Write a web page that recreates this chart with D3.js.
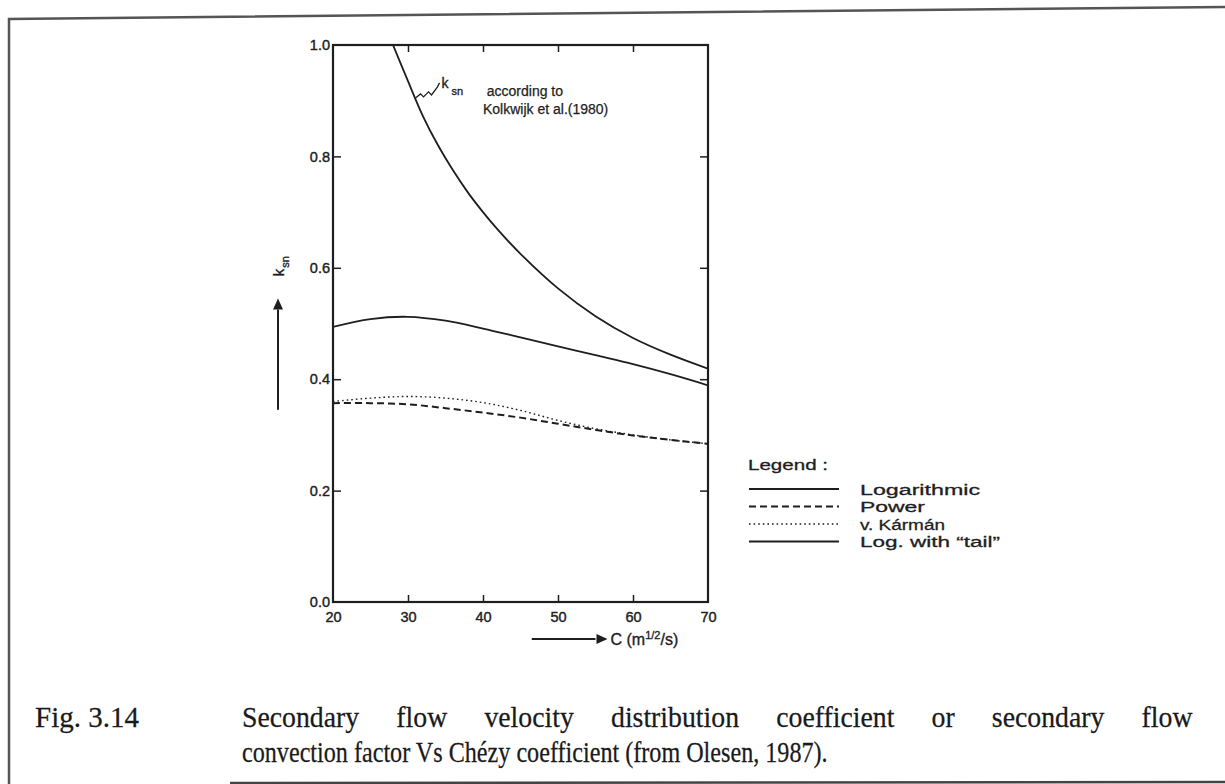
<!DOCTYPE html>
<html><head><meta charset="utf-8">
<script src="https://cdn.jsdelivr.net/npm/d3@7"></script>
<style>
html,body{margin:0;padding:0;background:#fff;}
svg{display:block;}
.ax text{font-family:"Liberation Sans",Arial,sans-serif;font-size:14.5px;fill:#222;stroke:#222;stroke-width:0.4px;}
</style></head>
<body>
<svg id="c" width="1225" height="784"></svg>
<script>
// ---- data ----
const cKalkwijk = [28, 30, 32, 34, 36, 38, 40, 42, 45, 50, 55, 60, 65, 70];
const kKalkwijk = [1.0, 0.935, 0.872, 0.82, 0.775, 0.735, 0.70, 0.668, 0.625, 0.563, 0.513, 0.474, 0.444, 0.419];
const cCurves = [20, 25, 30, 35, 40, 45, 50, 55, 60, 65, 70];
const kLogarithmic = [0.494, 0.508, 0.512, 0.505, 0.491, 0.475, 0.459, 0.443, 0.427, 0.409, 0.389];
const kPower = [0.357, 0.357, 0.355, 0.348, 0.340, 0.331, 0.320, 0.309, 0.299, 0.291, 0.284];
const kKarman = [0.360, 0.366, 0.369, 0.366, 0.358, 0.344, 0.326, 0.311, 0.300, 0.291, 0.284];
const xTicks = [20, 30, 40, 50, 60, 70];
const yTicks = [0.0, 0.2, 0.4, 0.6, 0.8, 1.0];
const legendNames = ["Logarithmic", "Power", "v. Kármán", "Log. with \u201ctail\u201d"];
const legendDash = [null, "7,4", "1.6,3", null];
const captionLabel = "Fig. 3.14";
const captionLines = ["Secondary flow velocity distribution coefficient or secondary flow",
                      "convection factor Vs Chézy coefficient (from Olesen, 1987)."];

const svg = d3.select("#c");
const ink = "#1e1e1e";
const sans = '"Liberation Sans",Arial,sans-serif';
function txt(sel, size, sw){ return sel.attr("font-family",sans).attr("font-size",size).attr("fill",ink).attr("stroke",ink).attr("stroke-width",sw==null?0.35:sw); }
function fitW(sel, w){ sel.attr("textLength", w).attr("lengthAdjust","spacingAndGlyphs"); return sel; }

// page frame (scanned box)
svg.append("path").attr("d", "M9,784 L9,19 L1225,7").attr("fill","none").attr("stroke","#555").attr("stroke-width",2.5);
svg.append("line").attr("x1",230).attr("x2",1225).attr("y1",783).attr("y2",782).attr("stroke","#444").attr("stroke-width",2.5);

const x = d3.scaleLinear().domain([20,70]).range([333,708]);
const y = d3.scaleLinear().domain([0,1]).range([602,45]);

const g = svg.append("g");
svg.append("defs").append("clipPath").attr("id","plot")
  .append("rect").attr("x",x(20)).attr("y",y(1)).attr("width",x(70)-x(20)).attr("height",y(0)-y(1));

// axes with inward ticks
const inner = [0.2,0.4,0.6,0.8];
g.append("g").attr("class","ax").attr("transform",`translate(0,${y(0)})`)
  .call(d3.axisBottom(x).tickValues(xTicks).tickSize(-7).tickPadding(10).tickFormat(d3.format("d")))
  .call(s=>s.select(".domain").remove())
  .call(s=>s.selectAll(".tick line").attr("stroke",ink).attr("stroke-width",1.5).filter(d=>d===20||d===70).remove());
g.append("g").attr("transform",`translate(0,${y(1)})`)
  .call(d3.axisTop(x).tickValues(xTicks.slice(1,-1)).tickSize(-7).tickFormat(""))
  .call(s=>s.select(".domain").remove())
  .call(s=>s.selectAll(".tick line").attr("stroke",ink).attr("stroke-width",1.5));
g.append("g").attr("class","ax").attr("transform",`translate(${x(20)},0)`)
  .call(d3.axisLeft(y).tickValues(yTicks).tickSize(-8).tickPadding(3).tickFormat(d3.format(".1f")))
  .call(s=>s.select(".domain").remove())
  .call(s=>s.selectAll(".tick line").attr("stroke",ink).attr("stroke-width",1.5).filter(d=>d===0||d===1).remove());
g.append("g").attr("transform",`translate(${x(70)},0)`)
  .call(d3.axisRight(y).tickValues(inner).tickSize(-8).tickFormat(""))
  .call(s=>s.select(".domain").remove())
  .call(s=>s.selectAll(".tick line").attr("stroke",ink).attr("stroke-width",1.5));

g.append("rect").attr("x",x(20)).attr("y",y(1)).attr("width",x(70)-x(20)).attr("height",y(0)-y(1))
  .attr("fill","none").attr("stroke",ink).attr("stroke-width",2.2);

// curves
const line = d3.line().x(d=>x(d[0])).y(d=>y(d[1])).curve(d3.curveCatmullRom.alpha(0.5));
const curves = g.append("g").attr("clip-path","url(#plot)").attr("fill","none").attr("stroke",ink);
curves.append("path").attr("d", line(cKalkwijk.map((c,i)=>[c,kKalkwijk[i]]))).attr("stroke-width",1.8);
curves.append("path").attr("d", line(cCurves.map((c,i)=>[c,kLogarithmic[i]]))).attr("stroke-width",1.8);
curves.append("path").attr("d", line(cCurves.map((c,i)=>[c,kPower[i]]))).attr("stroke-width",2).attr("stroke-dasharray",legendDash[1]);
curves.append("path").attr("d", line(cCurves.map((c,i)=>[c,kKarman[i]]))).attr("stroke-width",1.4).attr("stroke-dasharray",legendDash[2]);

// annotation for Kalkwijk curve
const ax0 = x(31.0), ay0 = y(0.905);
svg.append("path").attr("d", `M${ax0},${ay0} l5,-4 l3,3 l5,-5 l3,3 l6,-8 l2,-4`)
  .attr("fill","none").attr("stroke",ink).attr("stroke-width",1.3);
const ann = txt(svg.append("text"),14);
ann.append("tspan").attr("x",ax0+26).attr("y",ay0-10).text("k");
ann.append("tspan").attr("dx",3).attr("dy",7).attr("font-size",11).text("sn");
txt(svg.append("text"),14,0.25).attr("x",x(40.5)).attr("y",ay0-2).text("according to");
txt(svg.append("text"),14,0.25).attr("x",x(40.0)).attr("y",ay0+16).text("Kolkwijk et al.(1980)");

// y-axis label with arrow
const yl = txt(svg.append("text"),15).attr("transform",`translate(${x(20)-49},${y(0.585)}) rotate(-90)`);
yl.append("tspan").text("k");
yl.append("tspan").attr("dx",1).attr("dy",5).attr("font-size",11).text("sn");
svg.append("line").attr("x1",x(20)-55).attr("x2",x(20)-55).attr("y1",y(0.345)).attr("y2",y(0.525))
  .attr("stroke",ink).attr("stroke-width",2);
svg.append("path").attr("d",`M${x(20)-55},${y(0.545)} l-5,11 l10,0 z`).attr("fill",ink);

// x-axis label with arrow
const xa = y(0)+37;
svg.append("line").attr("x1",x(46.5)).attr("x2",x(55)).attr("y1",xa).attr("y2",xa).attr("stroke",ink).attr("stroke-width",1.8);
svg.append("path").attr("d",`M${x(56.6)},${xa} l-11,-5 l0,10 z`).attr("fill",ink);
const xl = txt(svg.append("text"),16).attr("x",x(57.0)).attr("y",xa+6);
xl.append("tspan").text("C (m");
xl.append("tspan").attr("dy",-6).attr("font-size",11).text("1/2");
xl.append("tspan").attr("dy",6).text("/s)");

// legend
const lg = svg.append("g").attr("transform","translate(748,0)");
fitW(txt(lg.append("text"),15,0.3).attr("x",0).attr("y",470).text("Legend :"), 80);
const legendW = [120, 65, 85, 140];
legendNames.forEach((n,i)=>{
  const yy = 489 + i*17.5;
  lg.append("line").attr("x1",1).attr("x2",91).attr("y1",yy).attr("y2",yy).attr("stroke",ink)
    .attr("stroke-width", i===2?1.3:1.8).attr("stroke-dasharray",legendDash[i]);
  fitW(txt(lg.append("text"),15.5,0.3).attr("x",112).attr("y",yy+5.5).text(n), legendW[i]);
});

// caption (condensed serif, justified first line)
const serif = '"Liberation Serif","DejaVu Serif",serif';
const capSize = 29;
function capText(str, x0, yb){
  return svg.append("text").attr("font-family",serif).attr("font-size",capSize).attr("fill","#1a1a1a")
    .attr("stroke","#1a1a1a").attr("stroke-width",0.25)
    .attr("transform",`translate(${x0},${yb})`).text(str);
}
const l2 = capText(captionLines[1], 242, 762);
const sx = 586 / l2.node().getComputedTextLength();
l2.attr("transform",`translate(242,762) scale(${sx},1)`);
const sx1 = sx * 1.15;
const l1 = capText(captionLines[0], 242, 727);
const nat1 = l1.node().getComputedTextLength();
const nGaps = captionLines[0].split(" ").length - 1;
l1.attr("word-spacing", ((951/sx1) - nat1)/nGaps).attr("transform",`translate(242,727) scale(${sx1},1)`);
const fl = capText(captionLabel, 35, 727);
const fsx = 104 / fl.node().getComputedTextLength();
fl.attr("transform",`translate(35,727) scale(${fsx},1)`);
</script>
</body></html>
